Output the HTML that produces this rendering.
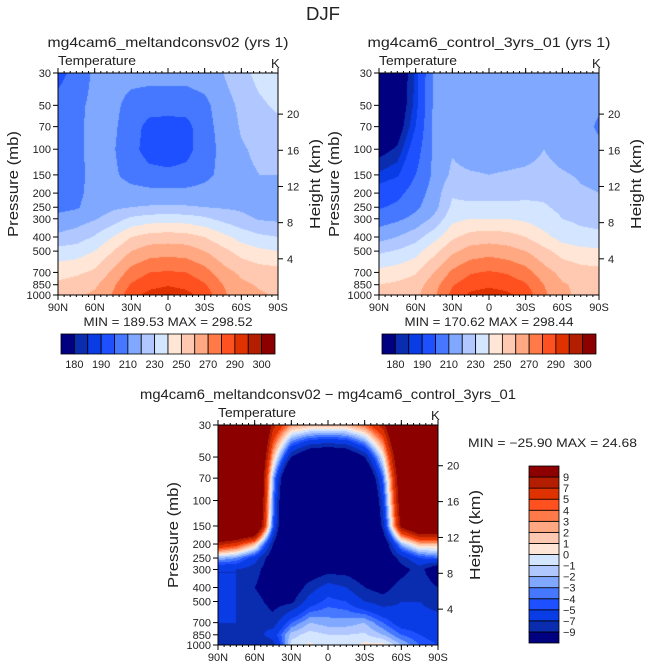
<!DOCTYPE html>
<html><head><meta charset="utf-8">
<style>
body{margin:0;background:#fff;width:647px;height:669px;position:relative;overflow:hidden;font-family:"Liberation Sans",sans-serif;}
canvas{position:absolute;}
svg{position:absolute;left:0;top:0;}
text{font-family:"Liberation Sans",sans-serif;fill:#222;}
</style></head><body>
<canvas id="c0"></canvas>
<canvas id="c1"></canvas>
<canvas id="c2"></canvas>
<svg id="s" width="647" height="669"></svg>
<script>
const latLabels=["90N","60N","30N","0","30S","60S","90S"];
const pLevels=[30,50,70,100,150,200,250,300,400,500,700,850,1000];
const pTickLabels=["30","50","70","100","150","200","250","300","400","500","700","850","1000"];
const heightTicks=[4,8,12,16,20];
const colors=["#000080","#0a2db0","#0a3ce6","#1e50ff","#4678ff","#80a8ff","#b0c8ff","#d4e6ff","#ffe6d6","#ffc8b0","#ffa882","#ff7a48","#ff5020","#e03200","#b41e00","#8c0000"];
const tLevels=[180,185,190,200,210,220,230,240,250,260,270,280,290,295,300];
const tBarLabels=["180","","190","","210","","230","","250","","270","","290","","300"];
const dLevels=[-9,-7,-5,-4,-3,-2,-1,0,1,2,3,4,5,7,9];
const dBarLabels=["−9","−7","−5","−4","−3","−2","−1","0","1","2","3","4","5","7","9"];
const fieldMelt=[
[197,203,212,214,214,214,214,214,216,220,226,234,236],
[203,207,213,213,206,204,204,204,207,216,222,228,232],
[205,208,213,212,204,197,196,197,206,214,221,225,227],
[207,208,213,211,203,196,195,197,205,213,219,222,222],
[205,208,212,212,206,203,202,203,207,213,218,220,220],
[205,208,213,215,214,213,213,213,214,217,219,218,217],
[207,209,214,218,220,221,221,221,220,219,218,214,213],
[213,215,219,225,232,235,236,235,232,227,223,219,218],
[222,225,231,240,250,254,255,254,250,243,236,232,230],
[234,235,240,250,260,265,266,265,260,253,246,242,240],
[246,248,252,262,274,280,281,280,274,264,258,255,254],
[252,255,258,268,281,287,289,287,281,270,262,259,258],
[253,258,262,271,287,293,296,293,286,272,264,261,259]];
const fieldControl=[
[170,172,186,212,215,215,215,215,215,215,215,215,214],
[170,173,187,212,215,215,215,215,215,215,215,215,212],
[171,175,190,212,215,215,215,215,215,215,215,215,208],
[177,181,195,212,219,215,215,215,216,220,216,215,213],
[186,189,200,212,222,221,220,221,222,223,221,219,218],
[194,197,205,214,229,226,226,226,227,228,225,221,220],
[199,202,208,216,232,233,233,233,233,231,228,226,225],
[205,208,213,222,237,240,240,240,238,234,230,228,227],
[216,220,226,236,248,254,255,254,250,243,236,233,232],
[228,231,236,247,258,264,266,264,260,253,246,243,242],
[243,245,249,260,272,279,281,279,274,264,257,254,253],
[250,252,255,266,279,286,288,286,281,270,261,258,257],
[252,254,258,268,283,292,295,292,286,272,262,258,257]];
const fieldDiff=[
[22,22,20,8,3,2,2,2,4,8,18,22,22],
[22,22,20,2,-9,-13,-14,-13,-9,0,15,22,22],
[22,22,20,-2,-18,-20,-20,-20,-16,-4,13,22,22],
[22,22,20,-3,-20,-22,-22,-22,-20,-6,12,20,20],
[20,20,18,-4,-20,-22,-22,-22,-20,-8,10,15,15],
[8,6,2,-9,-18,-20,-20,-20,-18,-12,-2,2,2],
[-2,-3,-6,-11,-15,-16,-16,-16,-15,-12,-8,-5,-4],
[-7,-7,-8,-11,-12,-11,-10,-10,-11,-12,-10,-8,-12],
[-7,-7,-9,-11,-11,-8,-6,-7,-9,-10,-8,-7,-9],
[-7,-7,-8,-10,-9.5,-6,-4.5,-5,-7,-8,-7,-7,-8],
[-7,-7,-7,-8,-4,-2,-2.5,-2.5,-2,-4,-6,-6,-6],
[-8,-8,-8,-6,-1.5,-0.5,-1,-1,-0.8,-2,-4,-5,-6],
[-9,-9,-9,-8,-0.5,0.2,-0.5,-0.5,0.3,0.5,-2,-4,-5]];

const L0=Math.log10(30),L1=Math.log10(1000);
function yOf(p,P){return P.y+(Math.log10(p)-L0)/(L1-L0)*P.h;}
function xOf(f,P){return P.x+f*P.w;}
const panels=[
{x:58,y:73,w:220,h:222,f:fieldMelt,lev:tLevels,c:"c0",title:"mg4cam6_meltandconsv02 (yrs  1)",tw:241,mm:"MIN =  189.53   MAX =  298.52",key:"melt"},
{x:379,y:73,w:220,h:222,f:fieldControl,lev:tLevels,c:"c1",title:"mg4cam6_control_3yrs_01 (yrs  1)",tw:243,mm:"MIN =  170.62   MAX =  298.44",key:"control"},
{x:218,y:425,w:220,h:220,f:fieldDiff,lev:dLevels,c:"c2",title:"mg4cam6_meltandconsv02 − mg4cam6_control_3yrs_01",tw:376,mm:"MIN = −25.90   MAX =  24.68",key:"diff"}];
const logs=pLevels.map(p=>Math.log10(p));
function sample(f,fx,lp){
  let gx=fx*12; let i=Math.min(11,Math.floor(gx)); let tx=gx-i;
  let j=0; while(j<11&&lp>logs[j+1])j++;
  let ty=(lp-logs[j])/(logs[j+1]-logs[j]); ty=Math.max(0,Math.min(1,ty));
  const a=f[j][i],b=f[j][i+1],c=f[j+1][i],d=f[j+1][i+1];
  return (a*(1-tx)+b*tx)*(1-ty)+(c*(1-tx)+d*tx)*ty;
}
function hex(h){return [parseInt(h.substr(1,2),16),parseInt(h.substr(3,2),16),parseInt(h.substr(5,2),16)];}
const rgb=colors.map(hex);
panels.forEach(P=>{
  const cv=document.getElementById(P.c);
  cv.width=P.w;cv.height=P.h;cv.style.left=P.x+"px";cv.style.top=P.y+"px";
  const ctx=cv.getContext("2d");const im=ctx.createImageData(P.w,P.h);
  for(let py=0;py<P.h;py++){const lp=L0+(py+0.5)/P.h*(L1-L0);
    for(let px=0;px<P.w;px++){const v=sample(P.f,(px+0.5)/P.w,lp);
      let k=0;while(k<P.lev.length&&v>=P.lev[k])k++;
      const c=rgb[k];const o=(py*P.w+px)*4;im.data[o]=c[0];im.data[o+1]=c[1];im.data[o+2]=c[2];im.data[o+3]=255;}}
  ctx.putImageData(im,0,0);
});
const S=document.getElementById("s");const NS="http://www.w3.org/2000/svg";
function el(t,a,txt){const e=document.createElementNS(NS,t);for(const k in a)e.setAttribute(k,a[k]);if(txt!==undefined)e.textContent=txt;S.appendChild(e);return e;}
let e=el("text",{x:323,y:20,"font-size":18,"text-anchor":"middle",fill:"#555",textLength:34,lengthAdjust:"spacingAndGlyphs"},"DJF");


panels.forEach((P,pi)=>{
  let t=el("text",{x:P.x+P.w/2,y:P.y-26,"font-size":14,"text-anchor":"middle",textLength:P.tw,lengthAdjust:"spacingAndGlyphs"},P.title);
  
  
  t=el("text",{x:P.x,y:P.y-8,"font-size":13,textLength:78,lengthAdjust:"spacingAndGlyphs"},"Temperature");
  
  
  t=el("text",{x:P.x+P.w-7,y:P.y-5,"font-size":13},"K");
  
  
  let r=el("rect",{x:P.x,y:P.y,width:P.w,height:P.h,fill:"none",stroke:"#000","stroke-width":1});
  
  
  pLevels.forEach((p,k)=>{const y=yOf(p,P);
    el("line",{x1:P.x-5,y1:y,x2:P.x,y2:y,stroke:"#000"});
    const lt=el("text",{x:P.x-7,y:y+4,"font-size":11,"text-anchor":"end"},pTickLabels[k]);
    
    });
  heightTicks.forEach(h=>{const y=yOf(1000*Math.exp(-h/7),P);
    el("line",{x1:P.x+P.w,y1:y,x2:P.x+P.w+5,y2:y,stroke:"#000"});
    const lt=el("text",{x:P.x+P.w+9,y:y+4,"font-size":11},String(h));
    
    });
  latLabels.forEach((l,k)=>{const x=xOf(k/6,P);
    el("line",{x1:x,y1:P.y+P.h,x2:x,y2:P.y+P.h+5,stroke:"#000"});
    el("line",{x1:x,y1:P.y,x2:x,y2:P.y-5,stroke:"#000"});
    const lt=el("text",{x:x,y:P.y+P.h+16,"font-size":11,"text-anchor":"middle"},l);
    
    });
  for(let k=0;k<36;k++){const x=xOf(k/36,P);el("line",{x1:x,y1:P.y+P.h,x2:x,y2:P.y+P.h+2,stroke:"#000"});el("line",{x1:x,y1:P.y,x2:x,y2:P.y-2,stroke:"#000"});}
  const cy=P.y+P.h/2;
  t=el("text",{x:P.x-44,y:cy+4,"font-size":15,"text-anchor":"middle",fill:"#444",textLength:106,lengthAdjust:"spacingAndGlyphs",transform:`rotate(-90 ${P.x-44} ${cy})`},"Pressure  (mb)");
  
  
  t=el("text",{x:P.x+P.w+38,y:cy+4,"font-size":15,"text-anchor":"middle",fill:"#444",textLength:90,lengthAdjust:"spacingAndGlyphs",transform:`rotate(-90 ${P.x+P.w+38} ${cy})`},"Height  (km)");
  
  
  if(pi<2){
    t=el("text",{x:P.x+P.w/2,y:P.y+P.h+31,"font-size":12,"text-anchor":"middle",textLength:169,lengthAdjust:"spacingAndGlyphs"},P.mm);
    
    
    const bx=P.x+3,bw=214,by=334,bh=20,cw=bw/16;
    colors.forEach((c,k)=>{const b=el("rect",{x:bx+k*cw,y:by,width:cw,height:bh,fill:c,stroke:"#000","stroke-width":0.8});
      
      });
    tBarLabels.forEach((l,k)=>{if(!l)return;const lt=el("text",{x:bx+(k+1)*cw,y:by+bh+14,"font-size":11,"text-anchor":"middle"},l);
      
      });
  } else {
    t=el("text",{x:468,y:447,"font-size":12,textLength:169,lengthAdjust:"spacingAndGlyphs"},P.mm);
    
    
    const bx=529,bw=30,by=466,bh=177,ch=bh/16;
    colors.forEach((c,k)=>{const b=el("rect",{x:bx,y:by+(15-k)*ch,width:bw,height:ch,fill:c,stroke:"#000","stroke-width":0.8});
      
      });
    dBarLabels.forEach((l,k)=>{const lt=el("text",{x:bx+bw+4,y:by+(15-k)*ch+4,"font-size":11},l);
      
      });
  }
});
</script>
</body></html>
